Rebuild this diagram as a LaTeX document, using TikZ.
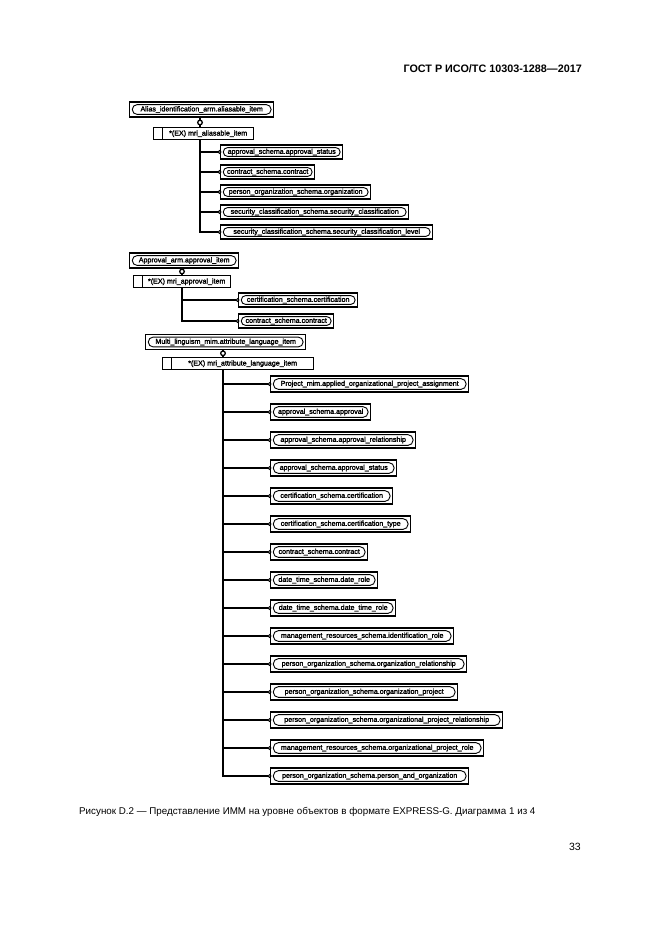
\documentclass[tikz,border=0pt]{standalone}
\usepackage{fontspec}
\setmainfont{Liberation Sans}
\newfontfamily\lblfont[FakeBold=2.2]{Liberation Sans}
\usetikzlibrary{arrows.meta}
\begin{document}
\begin{tikzpicture}[x=1pt,y=-1pt,
  lbl/.style={font=\lblfont\fontsize{7.1}{8}\selectfont},
  entity/.style={draw, line width=1.4pt, inner sep=0pt, anchor=west, lbl,
    path picture={\draw[line width=0.9pt, rounded corners=#1]
      ([shift={(2.6pt,2.6pt)}]path picture bounding box.south west) rectangle
      ([shift={(-2.6pt,-2.6pt)}]path picture bounding box.north east);}},
  entA/.style={entity=4.3pt, minimum height=14pt},
  entB/.style={entity=5.2pt, minimum height=16pt},
  entT/.style={entity=4.8pt, minimum height=15pt},
  subbox/.style={draw, line width=1.4pt, inner sep=0pt, anchor=north west,
    minimum height=12pt, lbl,
    path picture={\draw[line width=1pt]
      ([xshift=9pt]path picture bounding box.north west) --
      ([xshift=9pt]path picture bounding box.south west);}},
  conn/.style={line width=1.1pt, shorten >=-1.5pt,
    -{Circle[open,length=3.8pt,width=3.8pt,line width=1pt]}},
  supsym/.style={circle, draw, line width=1.3pt, fill=white, inner sep=0pt, minimum size=4.6pt},
  link/.style={line width=1.2pt},
  txt/.style={inner sep=0pt}
]
\useasboundingbox (0,0) rectangle (661,935);

% header
\node[txt, anchor=east, font=\bfseries\fontsize{10.8}{13}\selectfont] (hdr) at (582,69) {ГОСТ Р ИСО/ТС 10303-1288—2017};

% ---------- block 1
\node[entT, minimum width=144pt] (top1) at (129,109.5) {Alias\_identification\_arm.aliasable\_item};
\node[subbox, minimum width=100pt] (sub1) at (153,127) {\hspace*{9pt}*(EX) mri\_aliasable\_item};
\node[supsym] (o1) at (200,122.5) {};
\draw[link] (top1.south -| o1) -- (o1.north);
\draw[link] (o1.south) -- (sub1.north -| o1);
\coordinate (t1) at (200,0);
\node[entA, minimum width=122pt] (b11) at (220,152) {approval\_schema.approval\_status};
\node[entA, minimum width=94pt] (b12) at (220,172) {contract\_schema.contract};
\node[entA, minimum width=150pt] (b13) at (220,192) {person\_organization\_schema.organization};
\node[entA, minimum width=188pt] (b14) at (220,212) {security\_classification\_schema.security\_classification};
\node[entA, minimum width=212pt] (b15) at (220,232) {security\_classification\_schema.security\_classification\_level};
\foreach \b in {b11,b12,b13,b14,b15}
  \draw[conn] (sub1.south -| t1) |- (\b.west);

% ---------- block 2
\node[entT, minimum width=109pt] (top2) at (129,260.5) {Approval\_arm.approval\_item};
\node[subbox, minimum width=97pt] (sub2) at (133,275) {\hspace*{9pt}*(EX) mri\_approval\_item};
\node[supsym] (o2) at (182,271.5) {};
\draw[link] (top2.south -| o2) -- (o2.north);
\draw[link] (o2.south) -- (sub2.north -| o2);
\coordinate (t2) at (182,0);
\node[entA, minimum width=119pt] (b21) at (238,300) {certification\_schema.certification};
\node[entA, minimum width=95pt] (b22) at (238,321) {contract\_schema.contract};
\foreach \b in {b21,b22}
  \draw[conn] (sub2.south -| t2) |- (\b.west);

% ---------- block 3
\node[entT, minimum width=160pt] (top3) at (145,342) {Multi\_linguism\_mim.attribute\_language\_item};
\node[subbox, minimum width=151pt] (sub3) at (162,357) {\hspace*{9pt}*(EX) mri\_attribute\_language\_item};
\node[supsym] (o3) at (223,353.3) {};
\draw[link] (top3.south -| o3) -- (o3.north);
\draw[link] (o3.south) -- (sub3.north -| o3);
\coordinate (t3) at (223,0);
\foreach \i/\w/\t in {
  1/198/Project\_mim.applied\_organizational\_project\_assignment,
  2/100/approval\_schema.approval,
  3/145/approval\_schema.approval\_relationship,
  4/126/approval\_schema.approval\_status,
  5/122/certification\_schema.certification,
  6/140/certification\_schema.certification\_type,
  7/97/contract\_schema.contract,
  8/107/date\_time\_schema.date\_role,
  9/125/date\_time\_schema.date\_time\_role,
  10/183/management\_resources\_schema.identification\_role,
  11/196/person\_organization\_schema.organization\_relationship,
  12/187/person\_organization\_schema.organization\_project,
  13/232/person\_organization\_schema.organizational\_project\_relationship,
  14/213/management\_resources\_schema.organizational\_project\_role,
  15/198/person\_organization\_schema.person\_and\_organization}
{
  \node[entB, minimum width=\w pt] (c\i) at (270,{384+28*(\i-1)}) {\t};
  \draw[conn] (sub3.south -| t3) |- (c\i.west);
}

% caption and page number
\node[txt, anchor=west, font=\fontsize{9.8}{12}\selectfont] (cap) at (79,812) {Рисунок D.2 — Представление ИММ на уровне объектов в формате EXPRESS-G. Диаграмма 1 из 4};
\node[txt, anchor=east, font=\fontsize{10.5}{12}\selectfont] (pg) at (581,847) {33};
\end{tikzpicture}
\end{document}
